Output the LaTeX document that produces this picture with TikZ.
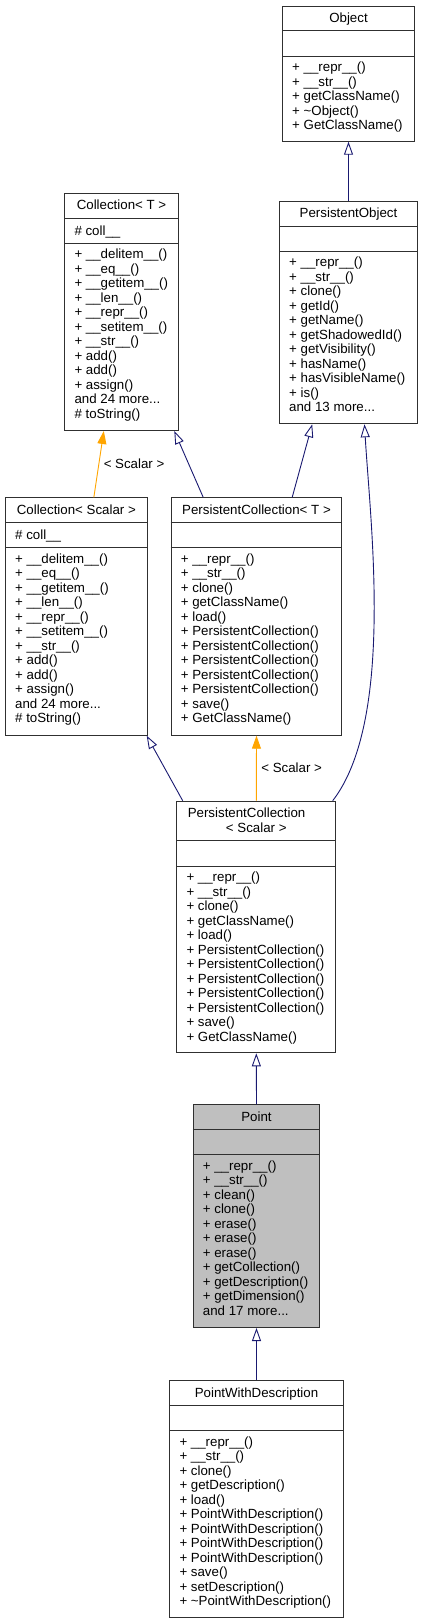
\documentclass[tikz,border=0pt]{standalone}
\usepackage{fontspec}
\setmainfont{Liberation Sans}
\usetikzlibrary{arrows.meta, calc}
\definecolor{edgeblue}{HTML}{191970}
\definecolor{tplorange}{HTML}{FFA500}
\definecolor{boxline}{HTML}{303030}
\definecolor{focusgray}{HTML}{BFBFBF}
\newcommand{\dgfont}{\fontsize{13.3pt}{14.5pt}\selectfont}

% one class box: name, box style, position, width, height, title height, title, attribute, methods
\newcommand{\umlclass}[9]{%
  \node[classbox, #2, minimum width=#4, minimum height=#5] (#1) at #3 {};
  \draw[sepline] ([yshift=-#6]#1.north west) -- ([yshift=-#6]#1.north east);
  \draw[sepline] ([yshift=-#6-25.3pt]#1.north west) -- ([yshift=-#6-25.3pt]#1.north east);
  \node[boxtext, align=center, anchor=north] (#1-t) at ([yshift=-6.8pt]#1.north) {\strut #7};
  \if\relax\detokenize{#8}\relax\else
    \node[boxtext, align=left, anchor=north west] (#1-a)
      at ([xshift=10pt, yshift=-#6-6.8pt]#1.north west) {\strut #8};
  \fi
  \node[boxtext, align=left, anchor=north west] (#1-m)
    at ([xshift=10pt, yshift=-#6-25.3pt-5.2pt]#1.north west) {\strut #9};
}

\tikzset{
  classbox/.style={draw=boxline, fill=white, line width=1pt, anchor=north west, inner sep=0pt},
  sepline/.style={draw=boxline, line width=1pt},
  boxtext/.style={inner sep=0pt, font=\dgfont, text=black},
  inherit/.style={draw=edgeblue, line width=0.9pt, -{Triangle[open, length=13pt, width=9pt]}},
  templ/.style={draw=tplorange, line width=0.9pt, -{Triangle[length=13pt, width=9pt]}},
  tpllabel/.style={inner sep=0pt, font=\dgfont, anchor=west, xshift=4.5pt},
}

\begin{document}
\begin{tikzpicture}[x=1pt, y=-1pt]
\useasboundingbox (0,0) rectangle (421,1624);

% Classes
\umlclass{object}{}{(282,5.7)}{132pt}{135pt}{25.3pt}{Object}{}
  {+ \_\_repr\_\_()\\+ \_\_str\_\_()\\+ getClassName()\\+ \textasciitilde Object()\\+ GetClassName()}

\umlclass{po}{}{(279,200.7)}{138pt}{222.6pt}{25.3pt}{PersistentObject}{}
  {+ \_\_repr\_\_()\\+ \_\_str\_\_()\\+ clone()\\+ getId()\\+ getName()\\+ getShadowedId()\\
   + getVisibility()\\+ hasName()\\+ hasVisibleName()\\+ is()\\and 13 more...}

\umlclass{collt}{}{(64.3,192.7)}{113.4pt}{237.3pt}{25.3pt}{Collection< T >}{\# coll\_\_}
  {+ \_\_delitem\_\_()\\+ \_\_eq\_\_()\\+ \_\_getitem\_\_()\\+ \_\_len\_\_()\\+ \_\_repr\_\_()\\
   + \_\_setitem\_\_()\\+ \_\_str\_\_()\\+ add()\\+ add()\\+ assign()\\and 24 more...\\\# toString()}

\umlclass{colls}{}{(5,497.3)}{141.7pt}{237.4pt}{25.3pt}{Collection< Scalar >}{\# coll\_\_}
  {+ \_\_delitem\_\_()\\+ \_\_eq\_\_()\\+ \_\_getitem\_\_()\\+ \_\_len\_\_()\\+ \_\_repr\_\_()\\
   + \_\_setitem\_\_()\\+ \_\_str\_\_()\\+ add()\\+ add()\\+ assign()\\and 24 more...\\\# toString()}

\umlclass{pct}{}{(170.7,497.3)}{170.6pt}{237.4pt}{25.3pt}{PersistentCollection< T >}{}
  {+ \_\_repr\_\_()\\+ \_\_str\_\_()\\+ clone()\\+ getClassName()\\+ load()\\
   + PersistentCollection()\\+ PersistentCollection()\\+ PersistentCollection()\\
   + PersistentCollection()\\+ PersistentCollection()\\+ save()\\+ GetClassName()}

\umlclass{pcs}{}{(176.3,800.7)}{159pt}{251.6pt}{40pt}
  {\makebox[137pt][l]{PersistentCollection}\\< Scalar >}{}
  {+ \_\_repr\_\_()\\+ \_\_str\_\_()\\+ clone()\\+ getClassName()\\+ load()\\
   + PersistentCollection()\\+ PersistentCollection()\\+ PersistentCollection()\\
   + PersistentCollection()\\+ PersistentCollection()\\+ save()\\+ GetClassName()}

\umlclass{point}{fill=focusgray}{(192.7,1104.3)}{126.6pt}{222.7pt}{25.3pt}{Point}{}
  {+ \_\_repr\_\_()\\+ \_\_str\_\_()\\+ clean()\\+ clone()\\+ erase()\\+ erase()\\+ erase()\\
   + getCollection()\\+ getDescription()\\+ getDimension()\\and 17 more...}

\umlclass{pwd}{}{(169.3,1380)}{173.4pt}{237pt}{25.3pt}{PointWithDescription}{}
  {+ \_\_repr\_\_()\\+ \_\_str\_\_()\\+ clone()\\+ getDescription()\\+ load()\\
   + PointWithDescription()\\+ PointWithDescription()\\+ PointWithDescription()\\
   + PointWithDescription()\\+ save()\\+ setDescription()\\+ \textasciitilde PointWithDescription()}

% Inheritance
\draw[inherit] (po.north) -- (object.south);
\draw[templ] ([xshift=17.5pt]colls.north) -- node[tpllabel] (lblcolls) {< Scalar >} ([xshift=-17.7pt]collt.south);
\draw[inherit] ([xshift=-53.3pt]pct.north) -- ([xshift=-4.4pt]collt.south east);
\draw[inherit] ([xshift=35.7pt]pct.north) -- ([xshift=-36.3pt]po.south);
\draw[inherit] ([xshift=6.4pt]pcs.north west) -- ([xshift=-1pt]colls.south east);
\draw[templ] (pcs.north) -- node[tpllabel] (lblpcs) {< Scalar >} (pct.south);
\draw[inherit] ([xshift=-3.6pt]pcs.north east) .. controls (395,720) and (370,520) .. ([xshift=16pt]po.south);
\draw[inherit] (point.north) -- (pcs.south);
\draw[inherit] (pwd.north) -- (point.south);

\end{tikzpicture}
\end{document}
